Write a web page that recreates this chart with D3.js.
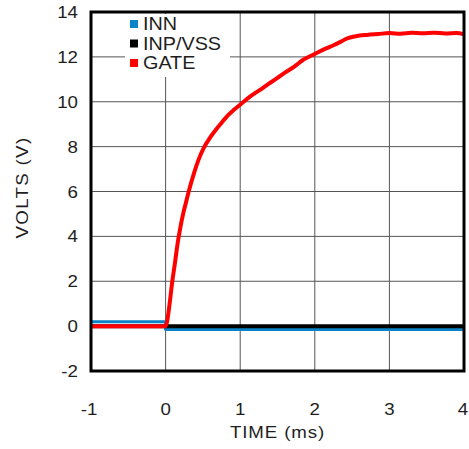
<!doctype html>
<html lang="en">
  <head>
    <meta charset="utf-8">
    <title>Gate voltage vs time</title>
    <script src="https://d3js.org/d3.v7.min.js"></script>
    <style>
      body { margin: 0; background: white; }
      text { font-family: "Liberation Sans", Arial, sans-serif; fill: #1e1e1e; font-size: 17px; }
    </style>
  </head>
  <body>
    <div id="chart"></div>
    <script>
    // Data (time in ms, volts)
    var gateTime  = [-1, 0, 0.02, 0.05, 0.09, 0.125, 0.155, 0.2, 0.235, 0.27, 0.31, 0.38, 0.44, 0.51, 0.6, 0.69, 0.76, 0.82, 0.92, 1.02, 1.14, 1.26, 1.38, 1.49, 1.6, 1.72, 1.84, 1.95, 2.05, 2.15, 2.25, 2.35, 2.43, 2.55, 2.7, 2.85, 3.0, 3.15, 3.3, 3.45, 3.6, 3.75, 3.9, 4.0];
    var gateVolts = [0, 0, 0.2, 0.9, 2.0, 2.8, 3.55, 4.43, 5.0, 5.47, 6.0, 6.81, 7.4, 7.93, 8.42, 8.82, 9.1, 9.34, 9.65, 9.93, 10.25, 10.52, 10.8, 11.04, 11.3, 11.55, 11.86, 12.05, 12.22, 12.38, 12.52, 12.68, 12.82, 12.92, 12.98, 13.02, 13.06, 13.03, 13.07, 13.05, 13.08, 13.04, 13.06, 13.0];
    var innTime   = [-1, 0, 0, 4];
    var innVolts  = [0.2, 0.2, -0.15, -0.15];
    var vssTime   = [-1, 4];
    var vssVolts  = [0, 0];

    var seriesNames  = ['INN', 'INP/VSS', 'GATE'];
    var seriesColors = ['#0a84c6', '#000000', '#ff0000'];
    var xTicks = [-1, 0, 1, 2, 3, 4];
    var yTicks = [-2, 0, 2, 4, 6, 8, 10, 12, 14];

    // the original lettering is a little wider than Arial
    var stretch = 1.1;

    function draw() {
        var width = 469, height = 449;
        var pLeft = 91, pRight = 464, pTop = 12, pBottom = 371;

        var svg = d3.select('#chart').append('svg')
            .attr('width', width)
            .attr('height', height);

        var x = d3.scaleLinear().domain([-1, 4]).range([pLeft, pRight]);
        var y = d3.scaleLinear().domain([-2, 14]).range([pBottom, pTop]);

        function place(px, py, rot) {
            return 'translate(' + px + ',' + py + ')' + (rot ? 'rotate(' + rot + ')' : '') + 'scale(' + stretch + ',1)';
        }

        // grid
        svg.append('g').selectAll('line')
            .data(xTicks).enter().append('line')
            .attr('x1', function(d) { return x(d); })
            .attr('x2', function(d) { return x(d); })
            .attr('y1', pTop).attr('y2', pBottom)
            .attr('stroke', '#555').attr('stroke-width', 1);
        svg.append('g').selectAll('line')
            .data(yTicks).enter().append('line')
            .attr('y1', function(d) { return y(d); })
            .attr('y2', function(d) { return y(d); })
            .attr('x1', pLeft).attr('x2', pRight)
            .attr('stroke', '#555').attr('stroke-width', 1);

        // tick labels
        svg.append('g').selectAll('text')
            .data(yTicks).enter().append('text')
            .attr('transform', function(d) { return place(78, y(d)); })
            .attr('dy', '0.36em')
            .attr('text-anchor', 'end')
            .text(function(d) { return d; });
        svg.append('g').selectAll('text')
            .data(xTicks).enter().append('text')
            .attr('transform', function(d) { return place(x(d) - (d < 0 ? 2 : 0) - (d == 4 ? 1 : 0), 415); })
            .attr('text-anchor', 'middle')
            .text(function(d) { return d; });

        svg.append('text')
            .attr('transform', place((pLeft + pRight) / 2, 438))
            .attr('text-anchor', 'middle')
            .style('letter-spacing', '0.8px')
            .text('TIME (ms)');
        svg.append('text')
            .attr('transform', place(28, (pTop + pBottom) / 2 - 4, -90))
            .attr('text-anchor', 'middle')
            .style('letter-spacing', '1.2px')
            .text('VOLTS (V)');

        // legend box hides the grid behind it
        svg.append('rect')
            .attr('x', 125).attr('y', pTop + 2)
            .attr('width', 105).attr('height', 63)
            .attr('fill', 'white');

        // traces
        var smooth = d3.line()
            .curve(d3.curveMonotoneX)
            .x(function(d) { return x(d[0]); })
            .y(function(d) { return y(d[1]); });
        var straight = d3.line()
            .x(function(d) { return x(d[0]); })
            .y(function(d) { return y(d[1]); });

        var traces = [
            { t: innTime,  v: innVolts,  c: seriesColors[0], w: 3, gen: straight },
            { t: vssTime,  v: vssVolts,  c: seriesColors[1], w: 4, gen: straight },
            { t: gateTime, v: gateVolts, c: seriesColors[2], w: 4, gen: smooth }
        ];
        traces.forEach(function(s) {
            svg.append('path')
                .datum(d3.zip(s.t, s.v))
                .attr('d', s.gen)
                .attr('fill', 'none')
                .attr('stroke', s.c)
                .attr('stroke-width', s.w)
                .attr('stroke-linejoin', 'round');
        });

        // frame
        svg.append('rect')
            .attr('x', pLeft).attr('y', pTop)
            .attr('width', pRight - pLeft).attr('height', pBottom - pTop)
            .attr('fill', 'none')
            .attr('stroke', 'black').attr('stroke-width', 3);

        // legend
        var legend = svg.append('g').selectAll('g')
            .data(seriesNames).enter().append('g')
            .attr('transform', function(d, i) { return 'translate(130,' + (24 + i * 19.5) + ')'; });
        legend.append('rect')
            .attr('x', 0).attr('y', -4)
            .attr('width', 8).attr('height', 8)
            .attr('fill', function(d, i) { return seriesColors[i]; });
        legend.append('text')
            .attr('transform', place(13, 0))
            .attr('dy', '0.36em')
            .style('font-size', '18px')
            .text(function(d) { return d; });
    }
    draw();
    </script>
  </body>
</html>
